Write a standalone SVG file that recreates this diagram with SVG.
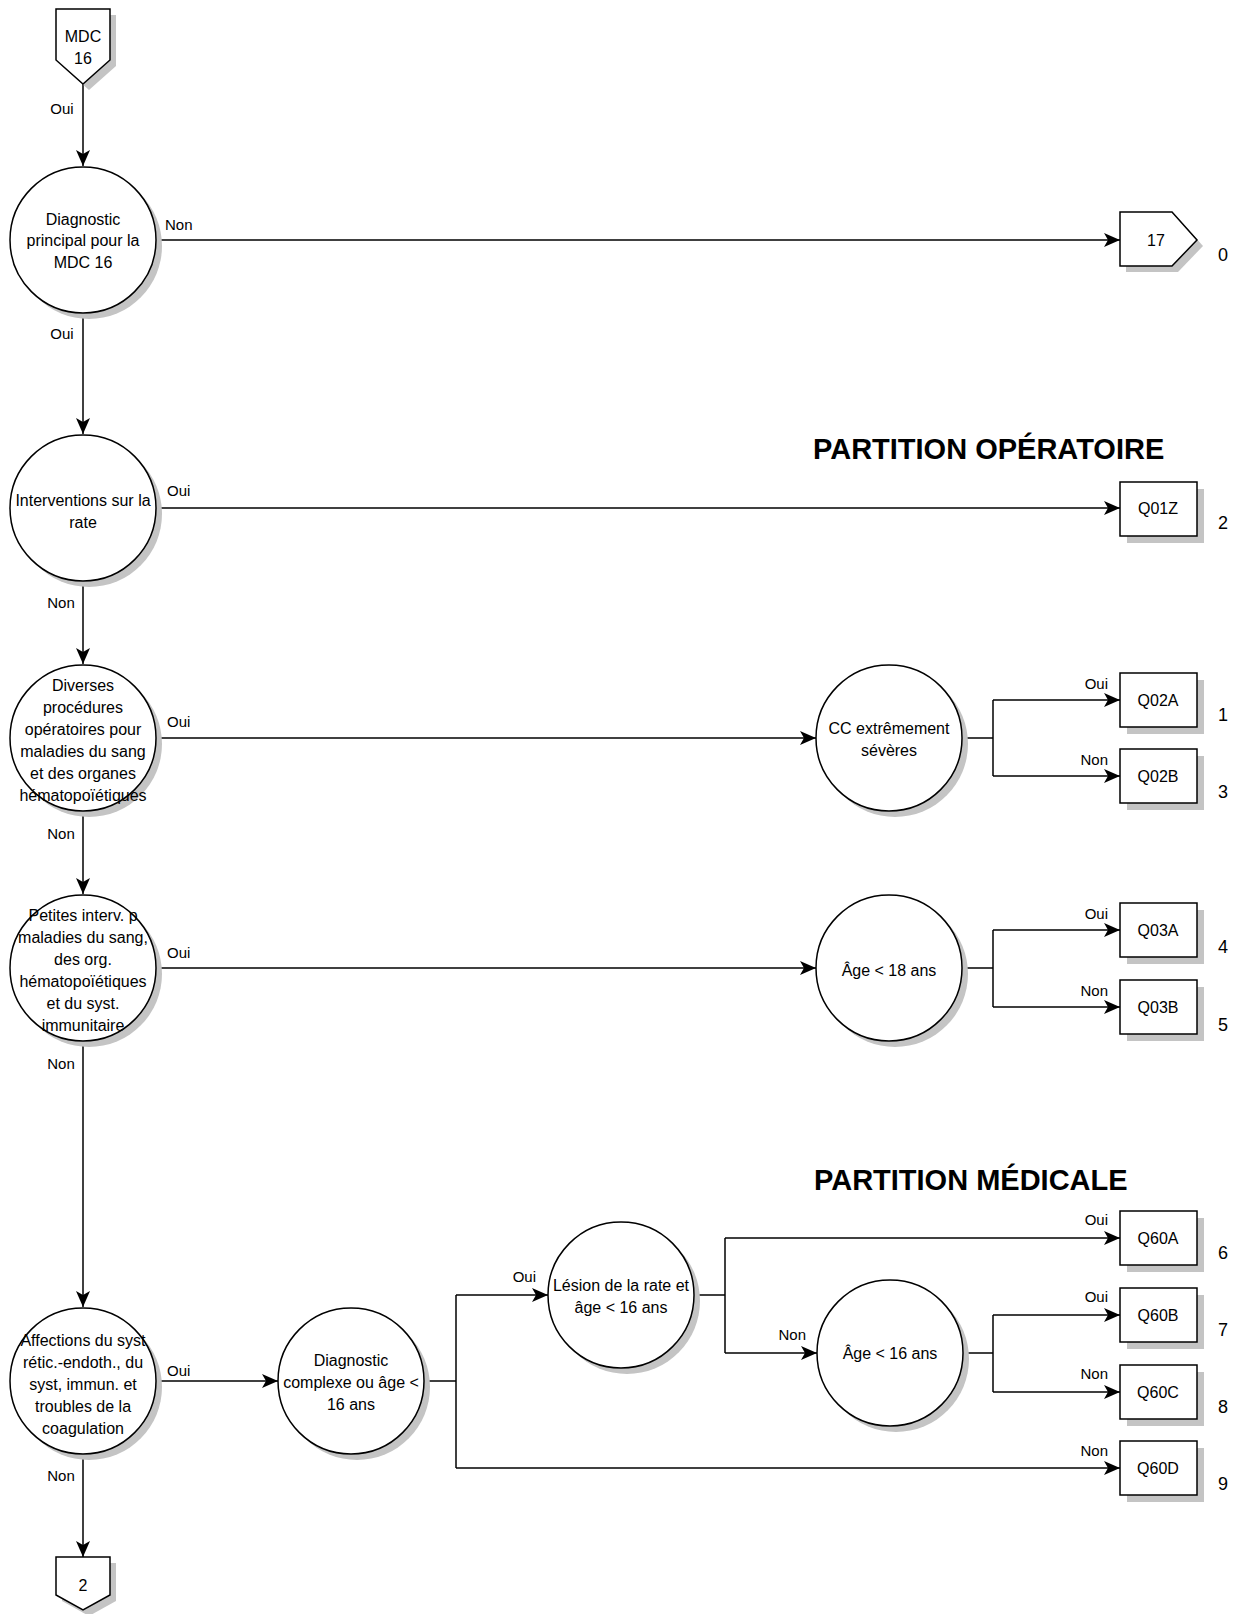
<svg xmlns="http://www.w3.org/2000/svg" width="1240" height="1614" viewBox="0 0 1240 1614">
<style>
text{font-family:"Liberation Sans",Arial,sans-serif;fill:#000}
.t{font-size:16px;text-anchor:middle}
.l{font-size:15px}
.le{font-size:15px;text-anchor:end}
.lm{font-size:15px;text-anchor:middle}
.d{font-size:18px;text-anchor:middle}
.h{font-size:29px;font-weight:bold}
.sh{fill:#c4c4c4;stroke:none}
.n{fill:#fff;stroke:#000;stroke-width:1.5}
.c{fill:none;stroke:#000;stroke-width:1.5}
</style>
<defs>
<marker id="a" markerUnits="userSpaceOnUse" markerWidth="18" markerHeight="14" refX="16" refY="7" orient="auto">
<path d="M0,0 L16,7 L0,14 L4,7 z" fill="#000"/>
</marker>
</defs>
<rect width="1240" height="1614" fill="#fff"/>

<g id="connectors">
<path class="c" d="M83,84 V166" marker-end="url(#a)"/>
<path class="c" d="M83,313 V434" marker-end="url(#a)"/>
<path class="c" d="M83,581 V664" marker-end="url(#a)"/>
<path class="c" d="M83,811 V894" marker-end="url(#a)"/>
<path class="c" d="M83,1041 V1307" marker-end="url(#a)"/>
<path class="c" d="M83,1454 V1557" marker-end="url(#a)"/>
<path class="c" d="M156,240 H1120" marker-end="url(#a)"/>
<path class="c" d="M156,508 H1120" marker-end="url(#a)"/>
<path class="c" d="M156,738 H816" marker-end="url(#a)"/>
<path class="c" d="M156,968 H816" marker-end="url(#a)"/>
<path class="c" d="M156,1381 H278" marker-end="url(#a)"/>
<path class="c" d="M962,738 H993"/>
<path class="c" d="M993,700 V776"/>
<path class="c" d="M993,700 H1120" marker-end="url(#a)"/>
<path class="c" d="M993,776 H1120" marker-end="url(#a)"/>
<path class="c" d="M962,968 H993"/>
<path class="c" d="M993,930 V1007"/>
<path class="c" d="M993,930 H1120" marker-end="url(#a)"/>
<path class="c" d="M993,1007 H1120" marker-end="url(#a)"/>
<path class="c" d="M424,1381 H456"/>
<path class="c" d="M456,1295 V1468"/>
<path class="c" d="M456,1295 H548" marker-end="url(#a)"/>
<path class="c" d="M456,1468 H1120" marker-end="url(#a)"/>
<path class="c" d="M694,1295 H725"/>
<path class="c" d="M725,1238 V1353"/>
<path class="c" d="M725,1238 H1120" marker-end="url(#a)"/>
<path class="c" d="M725,1353 H817" marker-end="url(#a)"/>
<path class="c" d="M963,1353 H993"/>
<path class="c" d="M993,1315 V1392"/>
<path class="c" d="M993,1315 H1120" marker-end="url(#a)"/>
<path class="c" d="M993,1392 H1120" marker-end="url(#a)"/>
<text class="lm" x="62" y="114">Oui</text>
<text class="l" x="165" y="230">Non</text>
<text class="lm" x="62" y="339">Oui</text>
<text class="l" x="167" y="496">Oui</text>
<text class="lm" x="61" y="608">Non</text>
<text class="l" x="167" y="727">Oui</text>
<text class="lm" x="61" y="839">Non</text>
<text class="l" x="167" y="958">Oui</text>
<text class="lm" x="61" y="1069">Non</text>
<text class="l" x="167" y="1376">Oui</text>
<text class="lm" x="61" y="1481">Non</text>
<text class="le" x="1108" y="689">Oui</text>
<text class="le" x="1108" y="765">Non</text>
<text class="le" x="1108" y="919">Oui</text>
<text class="le" x="1108" y="996">Non</text>
<text class="le" x="536" y="1282">Oui</text>
<text class="le" x="806" y="1340">Non</text>
<text class="le" x="1108" y="1225">Oui</text>
<text class="le" x="1108" y="1302">Oui</text>
<text class="le" x="1108" y="1379">Non</text>
<text class="le" x="1108" y="1456">Non</text>
</g>

<text class="h" x="813" y="459">PARTITION OPÉRATOIRE</text>
<text class="h" x="814" y="1190">PARTITION MÉDICALE</text>

<g id="mdc16">
<polygon class="sh" points="62,15 116,15 116,66 89,90 62,66"/>
<polygon class="n" points="56,9 110,9 110,60 83,84 56,60"/>
<text class="t" x="83" y="42">MDC</text>
<text class="t" x="83" y="64">16</text>
</g>
<g id="diag-principal">
<circle class="sh" cx="89" cy="246" r="73"/>
<circle class="n" cx="83" cy="240" r="73"/>
<text class="t" x="83" y="225">Diagnostic</text>
<text class="t" x="83" y="246">principal pour la</text>
<text class="t" x="83" y="268">MDC 16</text>
</g>
<g id="mdc17">
<polygon class="sh" points="1126,218 1178,218 1203,246 1178,272 1126,272"/>
<polygon class="n" points="1120,212 1172,212 1197,240 1172,266 1120,266"/>
<text class="t" x="1156" y="246">17</text>
<text class="d" x="1223" y="261">0</text>
</g>
<g id="interv-rate">
<circle class="sh" cx="89" cy="514" r="73"/>
<circle class="n" cx="83" cy="508" r="73"/>
<text class="t" x="83" y="506">Interventions sur la</text>
<text class="t" x="83" y="528">rate</text>
</g>
<g id="q01z">
<rect class="sh" x="1127" y="489" width="77" height="54"/>
<rect class="n" x="1120" y="482" width="77" height="54"/>
<text class="t" x="1158" y="514">Q01Z</text>
<text class="d" x="1223" y="529">2</text>
</g>
<g id="diverses">
<circle class="sh" cx="89" cy="744" r="73"/>
<circle class="n" cx="83" cy="738" r="73"/>
<text class="t" x="83" y="691">Diverses</text>
<text class="t" x="83" y="713">procédures</text>
<text class="t" x="83" y="735">opératoires pour</text>
<text class="t" x="83" y="757">maladies du sang</text>
<text class="t" x="83" y="779">et des organes</text>
<text class="t" x="83" y="801">hématopoïétiques</text>
</g>
<g id="cc">
<circle class="sh" cx="895" cy="744" r="73"/>
<circle class="n" cx="889" cy="738" r="73"/>
<text class="t" x="889" y="734">CC extrêmement</text>
<text class="t" x="889" y="756">sévères</text>
</g>
<g id="q02a">
<rect class="sh" x="1127" y="680" width="77" height="54"/>
<rect class="n" x="1120" y="673" width="77" height="54"/>
<text class="t" x="1158" y="706">Q02A</text>
<text class="d" x="1223" y="721">1</text>
</g>
<g id="q02b">
<rect class="sh" x="1127" y="756" width="77" height="54"/>
<rect class="n" x="1120" y="749" width="77" height="54"/>
<text class="t" x="1158" y="782">Q02B</text>
<text class="d" x="1223" y="798">3</text>
</g>
<g id="petites">
<circle class="sh" cx="89" cy="974" r="73"/>
<circle class="n" cx="83" cy="968" r="73"/>
<text class="t" x="83" y="921">Petites interv. p</text>
<text class="t" x="83" y="943">maladies du sang,</text>
<text class="t" x="83" y="965">des org.</text>
<text class="t" x="83" y="987">hématopoïétiques</text>
<text class="t" x="83" y="1009">et du syst.</text>
<text class="t" x="83" y="1031">immunitaire</text>
</g>
<g id="age18">
<circle class="sh" cx="895" cy="974" r="73"/>
<circle class="n" cx="889" cy="968" r="73"/>
<text class="t" x="889" y="976">Âge &lt; 18 ans</text>
</g>
<g id="q03a">
<rect class="sh" x="1127" y="910" width="77" height="54"/>
<rect class="n" x="1120" y="903" width="77" height="54"/>
<text class="t" x="1158" y="936">Q03A</text>
<text class="d" x="1223" y="953">4</text>
</g>
<g id="q03b">
<rect class="sh" x="1127" y="987" width="77" height="54"/>
<rect class="n" x="1120" y="980" width="77" height="54"/>
<text class="t" x="1158" y="1013">Q03B</text>
<text class="d" x="1223" y="1031">5</text>
</g>
<g id="affections">
<circle class="sh" cx="89" cy="1387" r="73"/>
<circle class="n" cx="83" cy="1381" r="73"/>
<text class="t" x="83" y="1346">Affections du syst</text>
<text class="t" x="83" y="1368">rétic.-endoth., du</text>
<text class="t" x="83" y="1390">syst, immun. et</text>
<text class="t" x="83" y="1412">troubles de la</text>
<text class="t" x="83" y="1434">coagulation</text>
</g>
<g id="diag-complexe">
<circle class="sh" cx="357" cy="1387" r="73"/>
<circle class="n" cx="351" cy="1381" r="73"/>
<text class="t" x="351" y="1366">Diagnostic</text>
<text class="t" x="351" y="1388">complexe ou âge &lt;</text>
<text class="t" x="351" y="1410">16 ans</text>
</g>
<g id="lesion">
<circle class="sh" cx="627" cy="1301" r="73"/>
<circle class="n" cx="621" cy="1295" r="73"/>
<text class="t" x="621" y="1291">Lésion de la rate et</text>
<text class="t" x="621" y="1313">âge &lt; 16 ans</text>
</g>
<g id="age16">
<circle class="sh" cx="896" cy="1359" r="73"/>
<circle class="n" cx="890" cy="1353" r="73"/>
<text class="t" x="890" y="1359">Âge &lt; 16 ans</text>
</g>
<g id="q60a">
<rect class="sh" x="1127" y="1218" width="77" height="54"/>
<rect class="n" x="1120" y="1211" width="77" height="54"/>
<text class="t" x="1158" y="1244">Q60A</text>
<text class="d" x="1223" y="1259">6</text>
</g>
<g id="q60b">
<rect class="sh" x="1127" y="1295" width="77" height="54"/>
<rect class="n" x="1120" y="1288" width="77" height="54"/>
<text class="t" x="1158" y="1321">Q60B</text>
<text class="d" x="1223" y="1336">7</text>
</g>
<g id="q60c">
<rect class="sh" x="1127" y="1372" width="77" height="54"/>
<rect class="n" x="1120" y="1365" width="77" height="54"/>
<text class="t" x="1158" y="1398">Q60C</text>
<text class="d" x="1223" y="1413">8</text>
</g>
<g id="q60d">
<rect class="sh" x="1127" y="1448" width="77" height="54"/>
<rect class="n" x="1120" y="1441" width="77" height="54"/>
<text class="t" x="1158" y="1474">Q60D</text>
<text class="d" x="1223" y="1490">9</text>
</g>
<g id="page2">
<polygon class="sh" points="62,1563 116,1563 116,1601 89,1616 62,1601"/>
<polygon class="n" points="56,1557 110,1557 110,1595 83,1610 56,1595"/>
<text class="t" x="83" y="1591">2</text>
</g>
</svg>
